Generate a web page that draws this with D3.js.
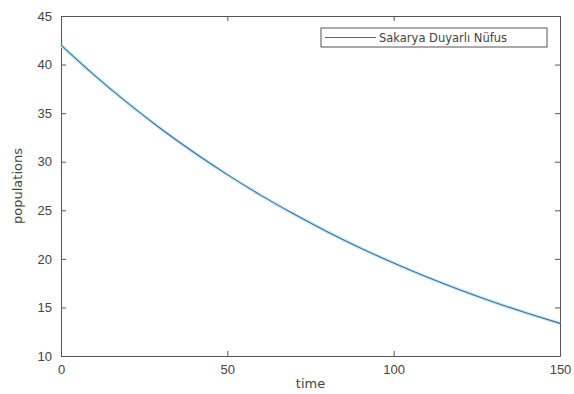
<!DOCTYPE html>
<html>
<head>
<meta charset="utf-8">
<script src="https://cdn.jsdelivr.net/npm/d3@7"></script>
<style>
  body { margin: 0; background: #fff; }
  svg { display: block; font-family: "DejaVu Sans", sans-serif; }
</style>
</head>
<body>
<div id="chart"><svg></svg></div>
<script>
// values, every 10 time units
const times = [0, 10, 20, 30, 40, 50, 60, 70, 80, 90, 100, 110, 120, 130, 140, 150];
const susceptible = [42.0, 38.91, 36.05, 33.40, 30.95, 28.67, 26.56, 24.61, 22.80, 21.12, 19.57, 18.13, 16.80, 15.56, 14.42, 13.36];
const xTicks = [0, 50, 100, 150];
const yTicks = [10, 15, 20, 25, 30, 35, 40, 45];
const seriesName = "Sakarya Duyarlı Nüfus";

const W = 574, H = 394;
const margin = { top: 16, right: 14, bottom: 38, left: 61 };
const width = W - margin.left - margin.right;
const height = H - margin.top - margin.bottom;
const axisColor = "#555";
const lineColor = "#35709c";

const svg = d3.select("#chart > svg").attr("width", W).attr("height", H);
const g = svg.append("g").attr("transform", `translate(${margin.left},${margin.top})`);

const x = d3.scaleLinear().domain([0, 150]).range([0, width]);
const y = d3.scaleLinear().domain([10, 45]).range([height, 0]);

// axes with inward ticks on every side (matlab box)
const styleAxis = sel => {
  sel.select(".domain").attr("stroke", axisColor);
  sel.selectAll(".tick line").attr("stroke", axisColor);
  sel.selectAll(".tick text").attr("fill", "#444").attr("font-size", 13);
};

g.append("g")
  .attr("transform", `translate(0,${height})`)
  .call(d3.axisBottom(x).tickValues(xTicks).tickSizeInner(-5).tickSizeOuter(0).tickPadding(9))
  .call(styleAxis);

g.append("g")
  .call(d3.axisTop(x).tickValues(xTicks).tickSizeInner(-5).tickSizeOuter(0).tickFormat(""))
  .call(styleAxis);

g.append("g")
  .call(d3.axisLeft(y).tickValues(yTicks).tickSizeInner(-5).tickSizeOuter(0).tickPadding(9))
  .call(styleAxis);

g.append("g")
  .attr("transform", `translate(${width},0)`)
  .call(d3.axisRight(y).tickValues(yTicks).tickSizeInner(-5).tickSizeOuter(0).tickFormat(""))
  .call(styleAxis);

const data = times.map((t, i) => ({ t, v: susceptible[i] }));
const line = d3.line().curve(d3.curveNatural).x(d => x(d.t)).y(d => y(d.v));

// faint halo like the blurry original, then the line itself
g.append("path")
  .datum(data)
  .attr("fill", "none")
  .attr("stroke", "#cdeaf6")
  .attr("stroke-width", 3.5)
  .attr("d", line);

g.append("path")
  .datum(data)
  .attr("fill", "none")
  .attr("stroke", lineColor)
  .attr("stroke-width", 1.1)
  .attr("d", line);

// axis labels
svg.append("text")
  .attr("x", margin.left + width / 2)
  .attr("y", 388)
  .attr("text-anchor", "middle")
  .attr("font-size", 13)
  .attr("fill", "#444")
  .text("time");

svg.append("text")
  .attr("transform", `translate(22,${margin.top + height / 2}) rotate(-90)`)
  .attr("text-anchor", "middle")
  .attr("font-size", 13)
  .attr("fill", "#444")
  .text("populations");

// legend
const legend = svg.append("g").attr("transform", "translate(321,28)");
legend.append("rect")
  .attr("width", 226).attr("height", 19)
  .attr("fill", "#fff").attr("stroke", axisColor);
legend.append("line")
  .attr("x1", 4).attr("x2", 55).attr("y1", 9.5).attr("y2", 9.5)
  .attr("stroke", lineColor).attr("stroke-width", 1.1);
legend.append("text")
  .attr("x", 58).attr("y", 14)
  .attr("font-size", 11.5)
  .attr("fill", "#444")
  .text(seriesName);
</script>
</body>
</html>
